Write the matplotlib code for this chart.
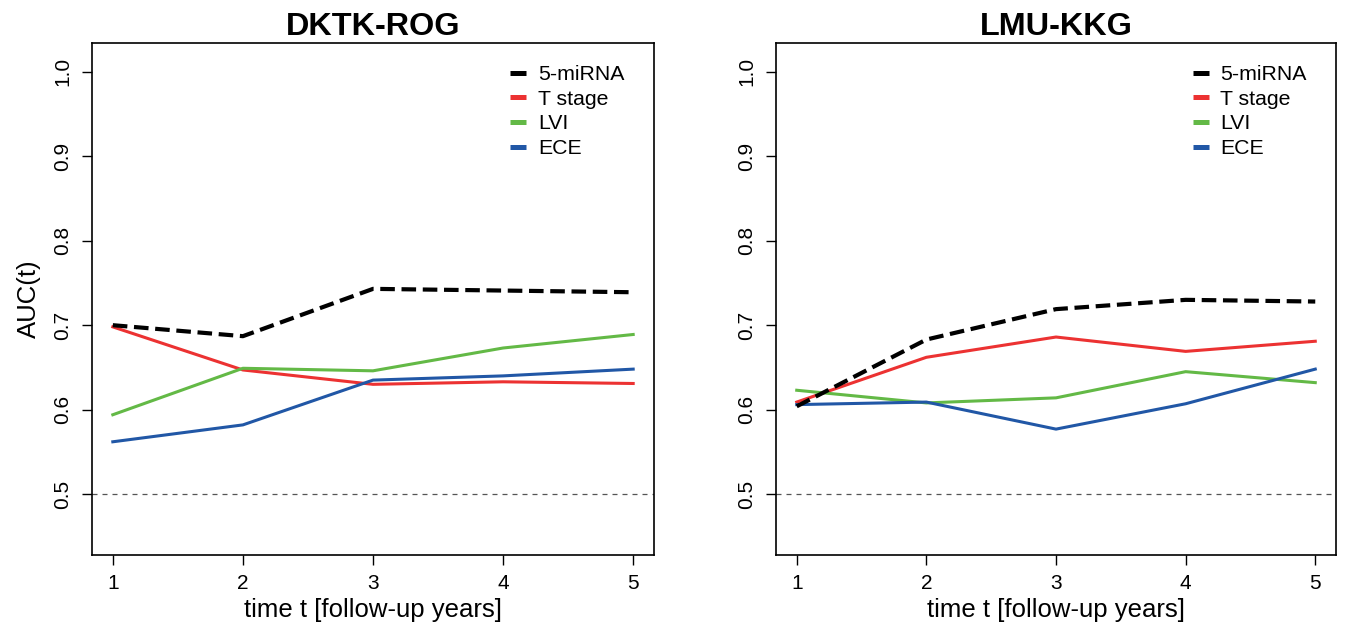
import matplotlib
matplotlib.use("Agg")
import matplotlib.pyplot as plt
from matplotlib.lines import Line2D

plt.rcParams["font.family"] = ["Liberation Sans", "DejaVu Sans"]

years = [1, 2, 3, 4, 5]
series_names = ["5-miRNA", "T stage", "LVI", "ECE"]
series_colors = ["black", "#EC3232", "#63B946", "#2157A6"]

# DKTK-ROG cohort, AUC(t)
dktk_mirna = [0.700, 0.687, 0.743, 0.741, 0.739]
dktk_tstage = [0.698, 0.647, 0.630, 0.633, 0.631]
dktk_lvi = [0.594, 0.649, 0.646, 0.673, 0.689]
dktk_ece = [0.562, 0.582, 0.635, 0.640, 0.648]

# LMU-KKG cohort, AUC(t)
lmu_mirna = [0.604, 0.683, 0.719, 0.730, 0.728]
lmu_tstage = [0.609, 0.662, 0.686, 0.669, 0.681]
lmu_lvi = [0.623, 0.608, 0.614, 0.645, 0.632]
lmu_ece = [0.606, 0.609, 0.577, 0.607, 0.648]

panels = [
    ("DKTK-ROG", [dktk_mirna, dktk_tstage, dktk_lvi, dktk_ece]),
    ("LMU-KKG", [lmu_mirna, lmu_tstage, lmu_lvi, lmu_ece]),
]
yticks = [0.5, 0.6, 0.7, 0.8, 0.9, 1.0]

fig = plt.figure(figsize=(13.48, 6.31), dpi=100)
axes = [
    fig.add_axes([92 / 1348, 76 / 631, 562 / 1348, 512 / 631]),
    fig.add_axes([776 / 1348, 76 / 631, 560 / 1348, 512 / 631]),
]

for i, (ax, (title, values)) in enumerate(zip(axes, panels)):
    ax.axhline(0.5, color="#555555", lw=0.9, ls=(0, (4, 4)), zorder=1)
    for name, col, vals in zip(series_names, series_colors, values):
        if name == "5-miRNA":
            ax.plot(years, vals, color=col, lw=3.0, dashes=(3.5, 1.6), zorder=3)
        else:
            ax.plot(years, vals, color=col, lw=2.2, zorder=2)

    ax.set_xlim(0.84, 5.16)
    ax.set_ylim(0.428, 1.034)
    ax.set_xticks(years)
    ax.set_yticks(yticks)
    ax.set_yticklabels([f"{v:.1f}" for v in yticks], rotation=90, va="center")
    ax.tick_params(direction="out", length=7, width=1, labelsize=15, pad=7)
    for sp in ax.spines.values():
        sp.set_linewidth(1.2)

    ax.set_title(title, fontsize=23.3, fontweight="bold", pad=6)
    ax.set_xlabel("time t [follow-up years]", fontsize=18.5, labelpad=3)
    if i == 0:
        ax.set_ylabel("AUC(t)", fontsize=18.5, labelpad=9)

    handles = [Line2D([], [], color=c, lw=3.6, solid_capstyle="butt") for c in series_colors]
    ax.legend(handles, series_names, loc="upper left", bbox_to_anchor=(0.744, 0.957),
              frameon=False, fontsize=15.3, handlelength=0.75, handletextpad=0.55,
              labelspacing=0.27, borderpad=0, borderaxespad=0)

fig.savefig("out.png", dpi=100)
